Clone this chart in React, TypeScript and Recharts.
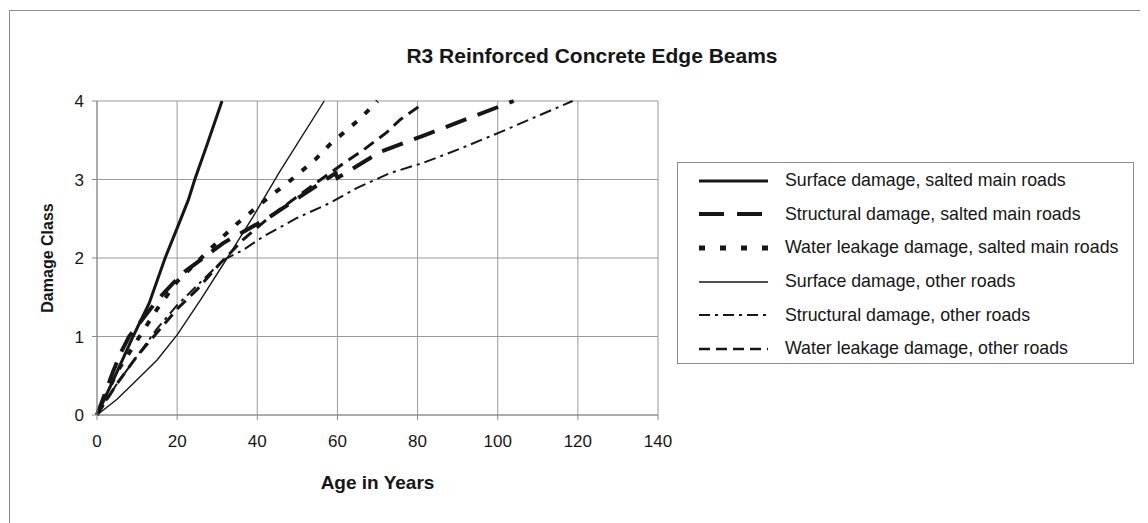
import React from 'react';
import { LineChart, Line, XAxis, YAxis, CartesianGrid, Legend } from 'recharts';

// [age in years, damage class]
const surfaceSalted: [number, number][] = [[0, 0], [5, 0.55], [9, 1.0], [13, 1.42], [17, 2.0], [20, 2.38], [22.8, 2.74], [24.4, 3.0], [27.5, 3.45], [31.2, 4.0]];
const structuralSalted: [number, number][] = [[0, 0], [4, 0.55], [6, 0.8], [8, 1.0], [15, 1.46], [19, 1.68], [22, 1.83], [31.5, 2.19], [43, 2.52], [59.5, 3.08], [60, 3.02], [70.6, 3.35], [81.5, 3.56], [104, 4.0]];
const waterSalted: [number, number][] = [[0, 0], [5, 0.55], [10, 0.95], [15, 1.35], [20, 1.7], [25, 1.95], [31.4, 2.27], [35, 2.44], [39, 2.61], [43, 2.78], [47.4, 2.95], [54.4, 3.25], [58, 3.44], [62.3, 3.63], [65.6, 3.77], [70, 4.0]];
const surfaceOther: [number, number][] = [[0, 0], [5, 0.2], [10, 0.45], [15, 0.7], [20, 1.02], [26, 1.48], [32.5, 2.0], [39, 2.53], [45.6, 3.1], [56.7, 4.0]];
const structuralOther: [number, number][] = [[0, 0], [5, 0.4], [10, 0.75], [15, 1.1], [20, 1.4], [25, 1.65], [31.4, 1.97], [36.4, 2.1], [41.4, 2.27], [49.9, 2.51], [58.1, 2.7], [64.8, 2.89], [73, 3.08], [81.3, 3.21], [90.5, 3.39], [100.5, 3.6], [118.7, 4.0]];
const waterOther: [number, number][] = [[0, 0], [5, 0.4], [10, 0.75], [15, 1.05], [20, 1.35], [25, 1.6], [30.7, 1.93], [36.4, 2.23], [43, 2.52], [49.9, 2.78], [56.4, 3.02], [61.4, 3.2], [66.3, 3.37], [72.3, 3.6], [75.6, 3.76], [80.9, 3.95]];

const seriesNames = [
  'Surface damage, salted main roads',
  'Structural damage, salted main roads',
  'Water leakage damage, salted main roads',
  'Surface damage, other roads',
  'Structural damage, other roads',
  'Water leakage damage, other roads',
];

const xTicks = [0, 20, 40, 60, 80, 100, 120, 140];
const yTicks = [0, 1, 2, 3, 4];

const title = 'R3 Reinforced Concrete Edge Beams';
const xTitle = 'Age in Years';
const yTitle = 'Damage Class';

const toPoints = (arr: [number, number][]) => arr.map(([x, y]) => ({ x, y }));

const INK = '#161616';
const FONT = '"Liberation Sans", Arial, Helvetica, sans-serif';

const styles = [
  { width: 3, dash: undefined, lw: 3, ldash: undefined },
  { width: 4, dash: '22 12', lw: 4, ldash: '25 13' },
  { width: 4, dash: '6 11', lw: 5, ldash: '6 15' },
  { width: 1.4, dash: undefined, lw: 1.5, ldash: undefined },
  { width: 2, dash: '12 5 3 5', lw: 2, ldash: '11 5 3 5' },
  { width: 3, dash: '12 7', lw: 2.5, ldash: '11 6' },
];

const seriesData = [surfaceSalted, structuralSalted, waterSalted, surfaceOther, structuralOther, waterOther];

const LegendBox = () => (
  <div
    style={{
      width: 457,
      height: 202,
      border: '1.5px solid #8a8a8a',
      background: '#fff',
      boxSizing: 'border-box',
      paddingTop: 1,
      fontFamily: FONT,
      fontSize: 17.8,
      color: INK,
    }}
  >
    {seriesNames.map((name, i) => (
      <div key={name} style={{ height: 33.6, display: 'flex', alignItems: 'center' }}>
        <svg width={90} height={12} style={{ marginLeft: 21, flex: 'none' }}>
          <line
            x1={0}
            y1={6}
            x2={69}
            y2={6}
            stroke={INK}
            strokeWidth={styles[i].lw}
            strokeDasharray={styles[i].ldash}
          />
        </svg>
        <span style={{ marginLeft: -4, whiteSpace: 'nowrap' }}>{name}</span>
      </div>
    ))}
  </div>
);

export default function App() {
  return (
    <div
      style={{
        position: 'relative',
        marginLeft: 1,
        marginTop: 2,
        width: 1130,
        height: 520,
        border: '1px solid #8c8c8c',
        background: '#fff',
      }}
    >
      <div
        style={{
          position: 'absolute',
          left: 9,
          top: 33,
          width: 1146,
          textAlign: 'center',
          fontFamily: FONT,
          fontWeight: 'bold',
          fontSize: 21,
          color: INK,
        }}
      >
        {title}
      </div>
      <LineChart width={1130} height={520} margin={{ top: 90, right: 482, bottom: 36, left: 37 }}>
        <CartesianGrid stroke="#9a9a9a" strokeWidth={1} />
        <XAxis
          type="number"
          dataKey="x"
          domain={[0, 140]}
          ticks={xTicks}
          interval={0}
          height={80}
          tickSize={5}
          tickMargin={15}
          stroke="#8a8a8a"
          tick={{ fill: INK, fontSize: 17, fontFamily: FONT }}
          label={{ value: xTitle, position: 'insideBottom', offset: 6, fill: INK, fontSize: 19, fontWeight: 'bold', fontFamily: FONT }}
        />
        <YAxis
          type="number"
          dataKey="y"
          domain={[0, 4]}
          ticks={yTicks}
          interval={0}
          width={50}
          tickSize={5}
          tickMargin={8}
          stroke="#8a8a8a"
          tick={{ fill: INK, fontSize: 17, fontFamily: FONT }}
          label={{ value: yTitle, angle: -90, position: 'insideLeft', offset: 0, fill: INK, fontSize: 16, fontWeight: 'bold', fontFamily: FONT, style: { textAnchor: 'middle' } }}
        />
        <Legend
          layout="vertical"
          align="center"
          verticalAlign="middle"
          content={() => <LegendBox />}
          wrapperStyle={{ left: 667, top: 151, width: 460, height: 206 }}
        />
        {seriesData.map((d, i) => (
          <Line
            key={seriesNames[i]}
            name={seriesNames[i]}
            data={toPoints(d)}
            dataKey="y"
            type="linear"
            stroke={INK}
            strokeWidth={styles[i].width}
            strokeDasharray={styles[i].dash}
            dot={false}
            activeDot={false}
            isAnimationActive={false}
          />
        ))}
      </LineChart>
    </div>
  );
}
